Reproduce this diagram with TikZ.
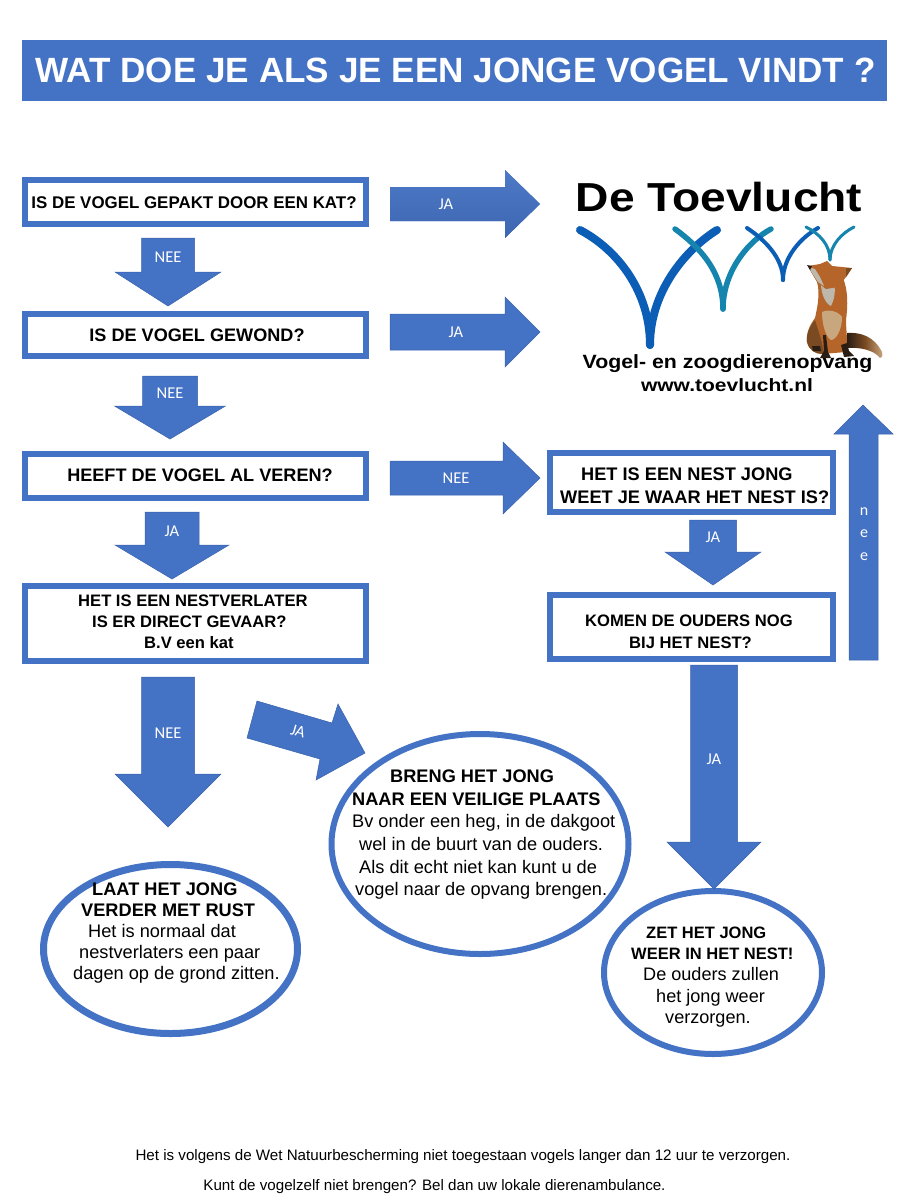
\documentclass[tikz,border=0pt]{standalone}
\usepackage{fontspec}
\usetikzlibrary{shapes.geometric}
\setmainfont{Liberation Sans}
\newfontfamily\calib{Carlito}
\definecolor{bl}{HTML}{4472C4}
\definecolor{edgebl}{HTML}{3A62AC}
\definecolor{logoa}{HTML}{0B5DB5}
\definecolor{logob}{HTML}{1585AE}
\definecolor{foxa}{HTML}{B5652A}
\definecolor{foxb}{HTML}{7A4A22}
\definecolor{foxc}{HTML}{BDB7AC}
\definecolor{foxd}{HTML}{2A1D14}
\definecolor{foxe}{HTML}{C9A77E}
\newcommand{\fs}[2]{\fontsize{#1}{#2}\selectfont}
\tikzset{
  x=1pt,y=-1pt,
  panel/.style={draw=bl,line width=6pt,fill=white,inner sep=0pt},
  oval/.style={draw=bl,line width=6pt,fill=white,inner sep=0pt},
  txt/.style={inner sep=0pt,align=left,anchor=north west,text=black},
  blockarrow/.style={fill=bl,draw=edgebl,line width=0.5pt},
  arrowlabel/.style={inner sep=0pt,text=white,font=\calib\fs{16.5}{18}},
  shadedarrow/.style={top color=bl!95!white,bottom color=bl!90!black,draw=none},
}
% right arrow: [style] x1 x2 yc halfshaft halfhead headx label labx
\newcommand{\rarrow}[8][]{%
  \draw[blockarrow,#1] (#2,#4-#5) -- (#7,#4-#5) -- (#7,#4-#6) -- (#3,#4) -- (#7,#4+#6) -- (#7,#4+#5) -- (#2,#4+#5) -- cycle;
  \node[arrowlabel] at (#8,#4) {\rarrowlabel};}
\newcommand{\rarrowlabel}{}
% down arrow: y1 y2 xc halfshaft halfhead heady label laby
\newcommand{\darrow}[8]{%
  \draw[blockarrow] (#3-#4,#1) -- (#3-#4,#6) -- (#3-#5,#6) -- (#3,#2) -- (#3+#5,#6) -- (#3+#4,#6) -- (#3+#4,#1) -- cycle;
  \node[arrowlabel] at (#3,#8) {#7};}
\begin{document}
\begin{tikzpicture}
\useasboundingbox (0,0) rectangle (903,1200);
\fill[white] (0,0) rectangle (903,1200);
% title
\node[fill=bl,minimum width=865pt,minimum height=61pt,inner sep=0pt,anchor=north west] (title) at (22,40) {};
\node[inner sep=0pt,text=white,font=\bfseries\fs{35.1}{38}] (titletext) at (455.5,70.5) {WAT DOE JE ALS JE EEN JONGE VOGEL VINDT ?};
% question boxes
\node[panel,minimum width=341pt,minimum height=44pt] (q1) at (195.5,202) {};
\node[panel,minimum width=341pt,minimum height=42pt] (q2) at (195.5,335) {};
\node[panel,minimum width=341pt,minimum height=44pt] (q3) at (195.5,476) {};
\node[panel,minimum width=341pt,minimum height=75pt] (q4) at (195.5,623.5) {};
\node[panel,minimum width=283pt,minimum height=59pt] (q5) at (691.5,482.5) {};
\node[panel,minimum width=283pt,minimum height=64pt] (q6) at (691.5,627) {};
\node[inner sep=0pt,font=\bfseries\fs{16.9}{20}] (q1t) at (194,202.5) {IS DE VOGEL GEPAKT DOOR EEN KAT?};
\node[inner sep=0pt,font=\bfseries\fs{18.1}{20}] (q2t) at (197,335.5) {IS DE VOGEL GEWOND?};
\node[inner sep=0pt,font=\bfseries\fs{18.1}{20}] (q3t) at (200,475.5) {HEEFT DE VOGEL AL VEREN?};
\node[txt,font=\bfseries\fs{16.6}{21}] (q4t) at (78,595) {HET IS EEN NESTVERLATER\\\hspace*{14pt}IS ER DIRECT GEVAAR?\\\hspace*{66pt}B.V een kat};
\node[txt,font=\bfseries\fs{18.2}{23}] (q5t) at (581,468) {HET IS EEN NEST JONG\\\hspace*{-21pt}WEET JE WAAR HET NEST IS?};
\node[txt,font=\bfseries\fs{16.6}{22}] (q6t) at (585,614.5) {KOMEN DE OUDERS NOG\\\hspace*{44pt}BIJ HET NEST?};
% ovals
\node[oval,ellipse,line width=7pt,minimum width=254pt,minimum height=169pt] (o1) at (170.5,949) {};
\node[oval,ellipse,minimum width=297pt,minimum height=220pt] (o2) at (480,844) {};
\node[oval,ellipse,minimum width=218pt,minimum height=163pt] (o3) at (713,972.5) {};
\node[txt,font=\fs{18.2}{21}] (o1t) at (73,882.5) {\hspace*{19pt}\textbf{LAAT HET JONG}\\\hspace*{8pt}\textbf{VERDER MET RUST}\\\hspace*{15pt}Het is normaal dat\\\hspace*{6pt}nestverlaters een paar\\dagen op de grond zitten.};
\node[txt,font=\fs{18.2}{22.7}] (o2t) at (352,769.5) {\hspace*{38pt}\textbf{BRENG HET JONG}\\\textbf{NAAR EEN VEILIGE PLAATS}\\Bv onder een heg, in de dakgoot\\\hspace*{7pt}wel in de buurt van de ouders.\\\hspace*{7pt}Als dit echt niet kan kunt u de\\\hspace*{3pt}vogel naar de opvang brengen.};
\node[txt,font=\fs{18.1}{21.3}] (o3t) at (630,926.5) {\hspace*{16pt}{\fs{16.5}{21.3}\textbf{ZET HET JONG}}\\\hspace*{1pt}{\fs{16.5}{21.3}\textbf{WEER IN HET NEST!}}\\\hspace*{13pt}De ouders zullen\\\hspace*{26pt}het jong weer\\\hspace*{35pt}verzorgen.};
% arrows
\renewcommand{\rarrowlabel}{JA}
\rarrow[shadedarrow]{390}{540}{204}{17}{34}{505}{446}
\rarrow{390}{540}{332}{18}{35}{505}{456}
\renewcommand{\rarrowlabel}{NEE}
\rarrow{390}{540}{478}{17}{36}{503}{456}
\darrow{238}{306}{168}{26.5}{53}{272}{NEE}{257}
\darrow{376}{439}{170}{27.5}{55.5}{406}{NEE}{393}
\darrow{512}{579}{172}{27}{57}{545}{JA}{531}
\darrow{677}{827}{168}{26.5}{53}{774}{NEE}{733}
\darrow{520}{585}{713}{23.5}{48}{552}{JA}{537}
\darrow{665}{889}{714}{23.5}{47}{842}{JA}{759}
\draw[blockarrow] (257,701) -- (332,723) -- (338,704) -- (365,753) -- (316,780) -- (320,759) -- (247,738) -- cycle;
\node[arrowlabel,rotate=-16] (jadiag) at (298,731) {JA};
\draw[blockarrow] (849,660) -- (849,434) -- (834,434) -- (863,405) -- (893,434) -- (878,434) -- (878,660) -- cycle;
\node[arrowlabel,align=center,font=\calib\fs{16}{22.5}] (nee) at (864,534) {n\\e\\e};
% logo
\node[inner sep=0pt,font=\bfseries\fs{40.5}{42}] (logot) at (719,197) {\scalebox{1.14}[1]{De Toevlucht}};
\node[inner sep=0pt,font=\bfseries\fs{19.2}{22}] (logos) at (727.5,364) {\scalebox{1.11}[1]{Vogel- en zoogdierenopvang}};
\node[inner sep=0pt,font=\bfseries\fs{17.8}{20}] (logou) at (727,385.5) {\scalebox{1.18}[1]{www.toevlucht.nl}};
\draw[logoa,line width=8pt,line cap=round] (580,230) .. controls (618,250) and (650,292) .. (650,345);
\draw[logoa,line width=8pt,line cap=round] (717,230) .. controls (685,250) and (650,292) .. (650,345);
\draw[logob,line width=5.5pt,line cap=round] (675,229) .. controls (697,245) and (723,270) .. (723,309);
\draw[logob,line width=5.5pt,line cap=round] (771,229) .. controls (750,240) and (723,270) .. (723,309);
\draw[logoa,line width=4pt,line cap=round] (747,228) .. controls (765,240) and (783,258) .. (783,280);
\draw[logoa,line width=4pt,line cap=round] (818,228) .. controls (800,238) and (783,258) .. (783,280);
\draw[logob,line width=3pt,line cap=round] (806,227) .. controls (820,234) and (830,245) .. (830,260);
\draw[logob,line width=3pt,line cap=round] (854,227) .. controls (842,233) and (830,245) .. (830,260);
% fox: tail
\path[left color=foxd,right color=foxe,middle color=foxb] (847,333) .. controls (860,332) and (874,336) .. (882,352) .. controls (883,356) and (882,358) .. (880,358) .. controls (874,350) and (860,347) .. (847,348) -- cycle;
% fox: body
\fill[foxa] (817,282) .. controls (820,292) and (818,305) .. (815,318) .. controls (809,326) and (806,334) .. (807,342) .. controls (809,350) and (815,354) .. (822,354) -- (846,352) .. controls (848,340) and (846,330) .. (846,320) .. controls (848,305) and (848,290) .. (843,278) -- cycle;
\fill[foxb] (807,342) .. controls (806,334) and (810,326) .. (815,320) .. controls (818,330) and (822,340) .. (824,354) .. controls (815,354) and (809,350) .. (807,342) -- cycle;
\fill[foxe] (822,312) .. controls (828,309) and (838,311) .. (842,317) .. controls (842,330) and (836,340) .. (831,340) .. controls (826,337) and (822,325) .. (822,312) -- cycle;
\fill[foxc] (821,283) -- (834,283) .. controls (836,292) and (834,300) .. (831,306) .. controls (826,304) and (821,295) .. (821,283) -- cycle;
% fox: head
\fill[foxa] (808,266) -- (820,264) -- (827,261) -- (832,266) -- (852,268) -- (846,277) -- (838,287) -- (826,289) -- (817,282) -- (811,272) -- cycle;
\fill[foxc] (809,267) -- (815,269) -- (820,277) -- (824,286) -- (818,282) -- (812,273) -- cycle;
\fill[foxb] (846,268) -- (852,268) -- (846,277) -- cycle;
\fill[foxd] (807,265) -- (812,266) -- (810,270) -- cycle;
% fox: legs and feet
\fill[foxd] (823,335) -- (826,335) -- (828,352) -- (831,358) -- (820,358) -- (824,351) -- cycle;
\fill[foxd] (841,345) -- (847,343) -- (849,351) -- (854,356) -- (844,357) -- cycle;
\fill[foxd] (812,346) -- (820,346) -- (821,351) -- (813,351) -- cycle;
% footer
\node[inner sep=0pt,font=\fs{15.15}{17}] (f1) at (463,1156.5) {Het is volgens de Wet Natuurbescherming niet toegestaan vogels langer dan 12 uur te verzorgen.};
\node[inner sep=0pt,font=\fs{15.15}{17}] (f2) at (434.5,1187) {Kunt de vogelzelf niet brengen? Bel dan uw lokale dierenambulance.};
\end{tikzpicture}
\end{document}
